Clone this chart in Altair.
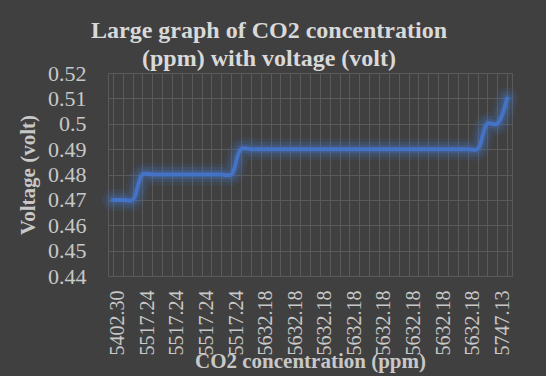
import altair as alt
import pandas as pd

co2 = [5402.30, 5402.30, 5402.30,
       5517.24, 5517.24, 5517.24, 5517.24, 5517.24, 5517.24, 5517.24, 5517.24, 5517.24, 5517.24,
       5632.18, 5632.18, 5632.18, 5632.18, 5632.18, 5632.18, 5632.18, 5632.18, 5632.18, 5632.18,
       5632.18, 5632.18, 5632.18, 5632.18, 5632.18, 5632.18, 5632.18, 5632.18, 5632.18, 5632.18,
       5632.18, 5632.18, 5632.18, 5632.18, 5632.18,
       5747.13, 5747.13, 5862.07]
voltage = [0.47, 0.47, 0.47,
           0.48, 0.48, 0.48, 0.48, 0.48, 0.48, 0.48, 0.48, 0.48, 0.48,
           0.49, 0.49, 0.49, 0.49, 0.49, 0.49, 0.49, 0.49, 0.49, 0.49,
           0.49, 0.49, 0.49, 0.49, 0.49, 0.49, 0.49, 0.49, 0.49, 0.49,
           0.49, 0.49, 0.49, 0.49, 0.49,
           0.50, 0.50, 0.51]
y_ticks = [0.44, 0.45, 0.46, 0.47, 0.48, 0.49, 0.50, 0.51, 0.52]
label_every = 3

df = pd.DataFrame({"idx": list(range(len(co2))), "co2": co2, "voltage": voltage})
label_list = ["%.2f" % v for v in co2]
label_js = "[" + ",".join("'%s'" % s for s in label_list) + "]"

FONT = "'Liberation Serif', 'Times New Roman', serif"
TXT = "#C8C8C8"
GRID = "#5A5A5A"
BLUE = "#4472C4"
W, H = 404, 203
band = W / len(co2)

x_enc = alt.X("idx:O",
              scale=alt.Scale(paddingInner=0, paddingOuter=0),
              axis=alt.Axis(title="CO2 concentration (ppm)",
                            bandPosition=0, labelOffset=band / 2,
                            labelAngle=-90, labelAlign="right", labelBaseline="middle",
                            labelPadding=14, labelOverlap=False,
                            labelExpr="datum.value %% %d == 0 ? %s[datum.value] : ''" % (label_every, label_js),
                            labelFont=FONT, labelFontSize=20, labelColor=TXT,
                            ticks=False, domain=False,
                            grid=True, gridColor=GRID, gridWidth=1,
                            titleFont=FONT, titleFontSize=21, titleFontWeight="bold",
                            titleColor=TXT, titleY=91, titleBaseline="alphabetic"))
y_enc = alt.Y("voltage:Q",
              scale=alt.Scale(domain=[0.44, 0.52], nice=False, zero=False),
              axis=alt.Axis(title="Voltage (volt)", values=y_ticks, format="~g",
                            labelFont=FONT, labelFontSize=22, labelColor=TXT,
                            labelPadding=22, ticks=False, domain=False,
                            grid=True, gridColor=GRID, gridWidth=1,
                            titleFont=FONT, titleFontSize=21, titleFontWeight="bold",
                            titleColor=TXT, titleX=-74, titleY=H / 2,
                            titleAngle=-90, titleAlign="center", titleBaseline="alphabetic"))

base = alt.Chart(df).encode(x=x_enc, y=y_enc)
glow1 = base.mark_line(interpolate="catmull-rom", color=BLUE, strokeWidth=22, opacity=0.12, strokeCap="round")
glow2 = base.mark_line(interpolate="catmull-rom", color=BLUE, strokeWidth=15, opacity=0.18, strokeCap="round")
glow3 = base.mark_line(interpolate="catmull-rom", color=BLUE, strokeWidth=9, opacity=0.25, strokeCap="round")
line = base.mark_line(interpolate="catmull-rom", color=BLUE, strokeWidth=4, strokeCap="round")

chart = alt.layer(glow1, glow2, glow3, line).properties(
    width=W, height=H,
    autosize=alt.AutoSizeParams(type="none"),
    padding={"left": 108, "top": 73, "right": 34, "bottom": 100},
    background="#404040",
    title=alt.TitleParams(text=["Large graph of CO2 concentration", "(ppm) with voltage (volt)"],
                          font=FONT, fontSize=24, fontWeight="bold", color="#D9D9D9",
                          anchor="middle", dx=-41, dy=17, offset=0, lineHeight=28),
).configure_view(stroke=GRID, strokeWidth=1)

chart.save("out.html", embed_options={"renderer": "svg", "actions": False})
